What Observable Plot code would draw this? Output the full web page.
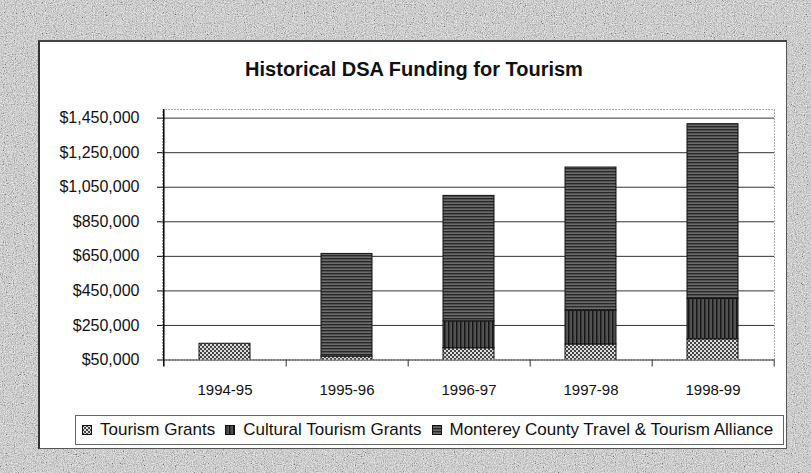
<!DOCTYPE html>
<html>
<head>
<meta charset="utf-8">
<script src="https://cdn.jsdelivr.net/npm/d3@7"></script>
<script src="https://cdn.jsdelivr.net/npm/@observablehq/plot@0.6"></script>
<style>
  html, body { margin: 0; padding: 0; }
  body { width: 811px; height: 473px; overflow: hidden; position: relative; background: #c4c4c4;
         font-family: "Liberation Sans", Arial, sans-serif; color: #111; }
  #bg { position: absolute; left: 0; top: 0; }
  #panel { position: absolute; left: 38px; top: 40px; width: 746px; height: 406px; background: #fff;
           border-left: 2px solid #333; border-top: 2px solid #444; border-right: 1.5px solid #555; border-bottom: 1.5px solid #555; }
  #title { position: absolute; left: 38px; top: 59px; width: 752px; text-align: center; font-weight: bold;
           font-size: 20px; line-height: 1; white-space: nowrap; }
  #chart { position: absolute; left: 0; top: 0; }
  #legend { position: absolute; left: 75px; top: 415px; width: 707px; height: 28px; border: 1px solid #666;
            background: #fff; display: flex; align-items: center; font-size: 17px; white-space: nowrap; box-sizing: content-box; }
  .item { display: flex; align-items: center; margin-right: 4px; }
  .item svg { margin-left: 6px; margin-right: 8px; }
</style>
</head>
<body>
<svg id="bg" width="811" height="473">
  <filter id="noise" x="0" y="0" width="100%" height="100%">
    <feTurbulence type="fractalNoise" baseFrequency="0.9" numOctaves="3" seed="7"/>
    <feColorMatrix type="saturate" values="0"/>
    <feComponentTransfer>
      <feFuncR type="linear" slope="2.2" intercept="-0.55"/>
      <feFuncG type="linear" slope="2.2" intercept="-0.55"/>
      <feFuncB type="linear" slope="2.2" intercept="-0.55"/>
      <feFuncA type="linear" slope="0" intercept="1"/>
    </feComponentTransfer>
  </filter>
  <rect width="811" height="473" fill="#d4d4d4"/>
  <rect width="811" height="473" filter="url(#noise)" opacity="0.45"/>
</svg>
<svg width="0" height="0" style="position:absolute">
  <defs>
    <pattern id="pTG" patternUnits="userSpaceOnUse" width="4" height="4">
      <rect width="4" height="4" fill="#dcdcdc"/>
      <rect x="0" y="0" width="2" height="2" fill="#444"/>
      <rect x="2" y="2" width="2" height="2" fill="#444"/>
    </pattern>
    <pattern id="pCT" patternUnits="userSpaceOnUse" width="4" height="4">
      <rect width="4" height="4" fill="#666"/>
      <rect x="0" y="0" width="1.6" height="4" fill="#161616"/>
      <rect x="2.6" y="0" width="0.7" height="4" fill="#2a2a2a"/>
    </pattern>
    <pattern id="pMC" patternUnits="userSpaceOnUse" width="4" height="3">
      <rect width="4" height="3" fill="#6c6c6c"/>
      <rect x="0" y="0" width="4" height="1.4" fill="#282828"/>
    </pattern>
  </defs>
</svg>
<div id="panel"></div>
<div id="title">Historical DSA Funding for Tourism</div>
<div id="chart"></div>
<div id="legend"></div>
<script>
// ---- data ----
const years = ["1994-95", "1995-96", "1996-97", "1997-98", "1998-99"];
const series = ["Tourism Grants", "Cultural Tourism Grants", "Monterey County Travel & Tourism Alliance"];
const tourismGrants  = [144000,  70000, 118000, 140000, 170000];
const culturalGrants = [     0,      0, 156000, 196000, 234000];
const mctta          = [     0, 594000, 726000, 828000, 1011000];
const yTicks = [50000, 250000, 450000, 650000, 850000, 1050000, 1250000, 1450000];
const yDomain = [50000, 1500000];
const patterns = ["url(#pTG)", "url(#pCT)", "url(#pMC)"];

const rows = [];
years.forEach((yr, i) => {
  rows.push({year: yr, series: series[0], value: tourismGrants[i]});
  rows.push({year: yr, series: series[1], value: culturalGrants[i]});
  rows.push({year: yr, series: series[2], value: mctta[i]});
});

const W = 811, H = 400;
const mL = 162, mR = 37, mT = 109, mB = 40.5;
const step = (W - mL - mR) / years.length;
const font = "'Liberation Sans', Arial, sans-serif";

const chart = Plot.plot({
  width: W, height: H,
  marginLeft: mL, marginRight: mR, marginTop: mT, marginBottom: mB,
  x: {domain: years, paddingInner: 0.586, paddingOuter: 0.293, axis: null, label: null},
  y: {domain: yDomain, axis: null, label: null},
  color: {type: "ordinal", domain: series, range: patterns},
  style: {background: "transparent", fontFamily: font, color: "#111", overflow: "visible"},
  marks: [
    Plot.frame({stroke: "#777", strokeDasharray: "1.2,1.8"}),
    Plot.ruleY(yTicks, {stroke: "#333", strokeWidth: 1}),
    Plot.barY(rows, Plot.stackY({x: "year", y: "value", fill: "series", stroke: "#111", strokeWidth: 1, clip: true, order: series})),
    Plot.ruleX([years[0]], {dx: -step / 2, stroke: "#000", strokeWidth: 1.5, insetBottom: -7}),
    Plot.ruleX(years, {dx: step / 2, y1: () => yTicks[0], y2: () => yTicks[0], insetBottom: -7, stroke: "#333"}),
    Plot.axisY(yTicks, {anchor: "left", label: null, tickFormat: d3.format("$,"), tickSize: 5, tickPadding: 18, fontSize: 16, stroke: "#000"}),
    Plot.axisX(years, {anchor: "bottom", label: null, tickSize: 0, tickPadding: 24, fontSize: 15})
  ]
});
document.getElementById("chart").appendChild(chart);

// ---- legend ----
const legend = document.getElementById("legend");
series.forEach((s, i) => {
  const item = document.createElement("div");
  item.className = "item";
  item.innerHTML = `<svg width="10" height="10"><rect x="0.5" y="0.5" width="9" height="9" fill="${patterns[i]}" stroke="#111" stroke-width="1"/></svg><span>${s.replace("&", "&amp;")}</span>`;
  legend.appendChild(item);
});
</script>
</body>
</html>
